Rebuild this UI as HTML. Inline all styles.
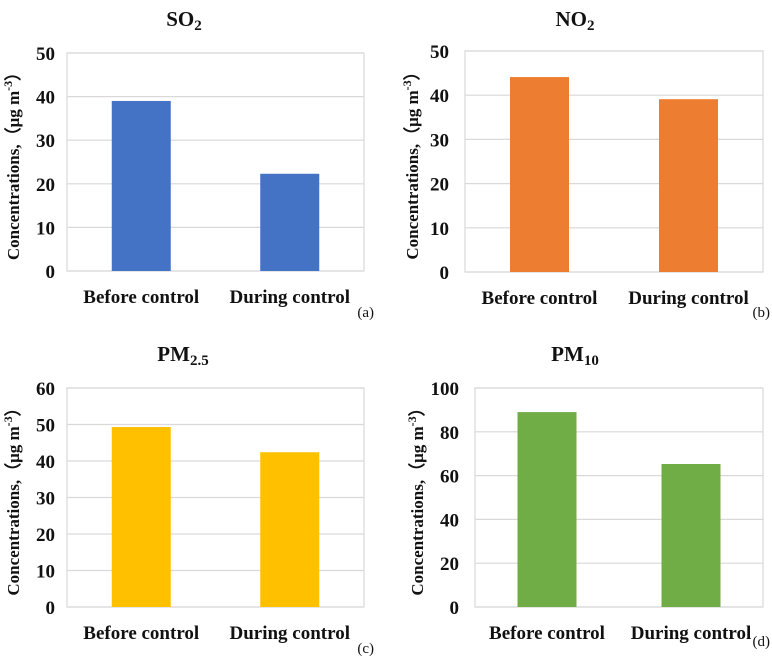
<!DOCTYPE html>
<html><head><meta charset="utf-8"><style>
html,body{margin:0;padding:0;background:#fff}
svg text{font-family:"Liberation Serif",serif;font-weight:bold;fill:#111}
</style></head><body>
<svg id="c" width="772" height="656" xmlns="http://www.w3.org/2000/svg"></svg>
<script>
const categories = ["Before control", "During control"];
const so2Values = [39, 22.3];
const no2Values = [44.1, 39.1];
const pm25Values = [49.3, 42.4];
const pm10Values = [89, 65.3];
const so2Ticks = [0,10,20,30,40,50];
const no2Ticks = [0,10,20,30,40,50];
const pm25Ticks = [0,10,20,30,40,50,60];
const pm10Ticks = [0,20,40,60,80,100];

const NS="http://www.w3.org/2000/svg";
const svg=document.getElementById('c');
function mk(tag,attrs,parent,text){const e=document.createElementNS(NS,tag);for(const k in attrs)e.setAttribute(k,attrs[k]);if(text!==undefined)e.textContent=text;(parent||svg).appendChild(e);return e;}

const panels=[
 {id:'so2',title:'SO',sub:'2',vals:so2Values,ticks:so2Ticks,color:'#4472C4',x0:67,x1:364,y0:53,y1:271,lx:55,yl:15,tag:'(a)',tagx:374,tagy:317,tx:184,ty:26},
 {id:'no2',title:'NO',sub:'2',vals:no2Values,ticks:no2Ticks,color:'#ED7D31',x0:465,x1:763,y0:51,y1:272,lx:449,yl:414,tag:'(b)',tagx:770,tagy:317,tx:575,ty:26},
 {id:'pm25',title:'PM',sub:'2.5',vals:pm25Values,ticks:pm25Ticks,color:'#FFC000',x0:67,x1:364,y0:388,y1:607,lx:55,yl:15,tag:'(c)',tagx:374,tagy:653,tx:183,ty:361},
 {id:'pm10',title:'PM',sub:'10',vals:pm10Values,ticks:pm10Ticks,color:'#70AD47',x0:475,x1:763,y0:388,y1:607,lx:459,yl:419,tag:'(d)',tagx:770,tagy:646,tx:575,ty:361}
];

panels.forEach(p=>{
  const g=mk('g',{});
  
  
  const max=p.ticks[p.ticks.length-1];
  const y=v=>p.y1-(v/max)*(p.y1-p.y0);
  const w=p.x1-p.x0, band=w/categories.length, bw=59;
  const xc=i=>p.x0+band*(i+0.5);
  const box=mk('rect',{x:p.x0,y:p.y0,width:w,height:p.y1-p.y0,fill:'none',stroke:'#d9d9d9','stroke-width':1.2},g);
  
  
  p.ticks.forEach(t=>{
    const l=mk('line',{x1:p.x0,x2:p.x1,y1:y(t),y2:y(t),stroke:'#d9d9d9','stroke-width':1.2},g);
    
    
    const tl=mk('text',{x:p.lx,y:y(t)+7,'text-anchor':'end','font-size':19},g,String(t));
    
    
  });
  p.vals.forEach((v,i)=>{
    const r=mk('rect',{x:xc(i)-bw/2,y:y(v),width:bw,height:y(0)-y(v),fill:p.color},g);
    
    
    const xl=mk('text',{x:xc(i),y:p.y1+32,'text-anchor':'middle','font-size':19},g,categories[i]);
    
    
  });
  const t=mk('text',{x:p.tx,y:p.ty,'text-anchor':'middle','font-size':21},g);
  
  
  mk('tspan',{},t,p.title);
  mk('tspan',{dy:4,'font-size':15},t,p.sub);
  const cy=(p.y0+p.y1)/2;
  const yt=mk('text',{x:p.yl,y:cy,'text-anchor':'middle','font-size':17,transform:'rotate(-90 '+p.yl+' '+cy+')','dominant-baseline':'middle'},g);
  
  
  mk('tspan',{},yt,'Concentrations,（μg m');
  mk('tspan',{dy:-6,'font-size':12},yt,'-3');
  mk('tspan',{dy:6},yt,'）');
  const tg=mk('text',{x:p.tagx,y:p.tagy,'text-anchor':'end','font-size':15,style:'font-weight:normal'},g,p.tag);
  
  
});
</script>
</body></html>
